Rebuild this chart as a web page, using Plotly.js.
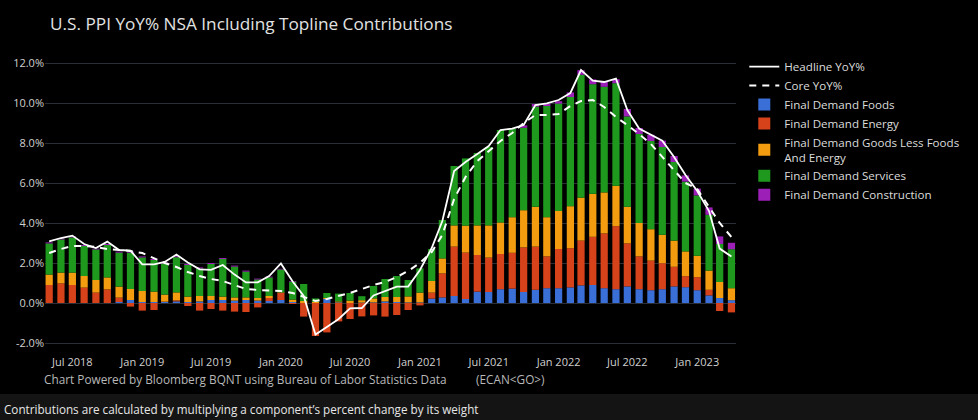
<!DOCTYPE html>
<html>
<head>
<meta charset="utf-8">
<script src="https://cdn.plot.ly/plotly-3.0.1.min.js"></script>
<style>
  html, body { margin: 0; padding: 0; background: #000; }
  #chart { width: 978px; height: 420px; }
</style>
</head>
<body>
<div id="chart"></div>
<script>
// Months (May 2018 .. Apr 2023)
const months = [
  "2018-05-01","2018-06-01","2018-07-01","2018-08-01","2018-09-01","2018-10-01","2018-11-01","2018-12-01",
  "2019-01-01","2019-02-01","2019-03-01","2019-04-01","2019-05-01","2019-06-01","2019-07-01","2019-08-01",
  "2019-09-01","2019-10-01","2019-11-01","2019-12-01","2020-01-01","2020-02-01","2020-03-01","2020-04-01",
  "2020-05-01","2020-06-01","2020-07-01","2020-08-01","2020-09-01","2020-10-01","2020-11-01","2020-12-01",
  "2021-01-01","2021-02-01","2021-03-01","2021-04-01","2021-05-01","2021-06-01","2021-07-01","2021-08-01",
  "2021-09-01","2021-10-01","2021-11-01","2021-12-01","2022-01-01","2022-02-01","2022-03-01","2022-04-01",
  "2022-05-01","2022-06-01","2022-07-01","2022-08-01","2022-09-01","2022-10-01","2022-11-01","2022-12-01",
  "2023-01-01","2023-02-01","2023-03-01","2023-04-01"
];

const headline = [3.08,3.25,3.37,2.95,2.75,3.07,2.65,2.62,1.93,1.93,2.05,2.42,2.02,1.68,1.66,1.90,
  1.42,1.03,1.03,1.35,1.98,1.07,0.35,-1.58,-1.20,-0.80,-0.27,-0.25,0.38,0.60,0.82,0.82,
  1.65,2.75,4.10,6.60,7.05,7.45,7.85,8.65,8.72,8.90,9.90,9.98,10.15,10.50,11.65,11.12,
  11.05,11.22,9.65,8.72,8.42,8.12,7.30,6.40,5.60,4.60,2.72,2.32];

const core = [2.50,2.70,2.85,2.85,2.80,2.70,2.65,2.60,2.50,2.25,2.00,1.80,1.55,1.35,1.20,1.10,
  0.90,0.70,0.65,0.63,0.60,0.50,0.30,0.10,0.20,0.35,0.50,0.70,0.90,1.05,1.30,1.60,
  2.00,2.55,3.40,5.20,6.30,7.10,7.60,8.10,8.50,9.00,9.40,9.40,9.45,9.85,10.10,10.15,
  9.80,9.30,8.90,8.45,7.95,7.30,6.60,6.00,5.70,4.80,4.00,3.30];

const foods = [0.00,0.00,0.00,0.00,0.00,0.00,0.05,0.15,0.05,0.05,0.05,0.08,0.05,0.08,0.15,0.15,
  0.12,0.15,0.12,0.10,0.15,0.05,0.00,0.00,0.20,0.03,0.00,0.02,0.03,0.08,0.05,0.03,
  0.03,0.22,0.28,0.35,0.20,0.57,0.55,0.69,0.72,0.55,0.66,0.74,0.74,0.78,0.88,0.90,
  0.74,0.69,0.83,0.69,0.64,0.69,0.83,0.79,0.64,0.38,0.25,0.14];

const energy = [0.90,0.98,0.90,0.77,0.52,0.68,0.22,-0.18,-0.38,-0.35,0.02,0.05,-0.15,-0.38,-0.30,-0.38,
  -0.43,-0.45,-0.22,0.15,0.35,-0.05,-0.68,-1.65,-1.47,-0.92,-0.80,-0.67,-0.62,-0.68,-0.60,-0.35,
  -0.12,0.30,1.20,2.47,2.32,1.83,1.72,1.76,1.79,2.23,2.16,1.59,1.96,1.96,2.24,2.41,
  2.74,3.15,2.15,1.64,1.48,1.30,0.98,0.55,0.65,0.28,-0.40,-0.47];

const goods = [0.52,0.54,0.62,0.58,0.63,0.60,0.55,0.55,0.55,0.52,0.35,0.40,0.27,0.27,0.20,0.17,
  0.16,0.13,0.13,0.10,0.03,0.12,0.10,0.05,0.05,0.05,0.12,0.12,0.20,0.22,0.25,0.30,
  0.49,0.58,0.75,1.06,1.35,1.48,1.61,1.58,1.78,1.86,1.99,1.96,1.90,2.10,2.15,2.15,
  2.05,2.02,1.83,1.67,1.57,1.42,1.31,1.24,1.07,0.96,0.80,0.60];

const services = [1.56,1.66,1.76,1.50,1.53,1.62,1.70,1.82,1.68,1.58,1.56,1.76,1.58,1.38,1.60,1.88,
  1.54,1.29,0.93,0.93,1.15,0.90,0.85,0.18,0.25,0.39,0.38,0.20,0.62,0.90,1.05,0.82,
  1.21,1.60,1.92,2.97,3.36,3.62,3.92,4.62,4.43,4.12,5.01,5.56,5.37,5.46,6.14,5.48,
  5.28,5.13,4.52,4.45,4.41,4.39,3.93,3.49,3.02,2.79,1.90,1.95];

const construction = [0.05,0.05,0.05,0.05,0.04,0.05,0.05,0.05,0.05,0.05,0.05,0.05,0.05,0.05,0.05,0.05,
  0.05,0.05,0.04,0.04,0.03,0.03,0.00,0.00,0.00,0.00,0.00,0.00,0.00,0.00,0.00,0.00,
  0.00,0.00,0.00,0.00,0.00,0.00,0.00,0.00,0.00,0.12,0.13,0.10,0.12,0.23,0.23,0.24,
  0.24,0.20,0.37,0.30,0.31,0.32,0.30,0.31,0.34,0.37,0.38,0.32];

const xTickVals = ["2018-07-01","2019-01-01","2019-07-01","2020-01-01","2020-07-01","2021-01-01",
  "2021-07-01","2022-01-01","2022-07-01","2023-01-01"];
const xTickText = ["Jul 2018","Jan 2019","Jul 2019","Jan 2020","Jul 2020","Jan 2021",
  "Jul 2021","Jan 2022","Jul 2022","Jan 2023"];

const yTickVals = [-2, 0, 2, 4, 6, 8, 10, 12];
const yTickText = ["-2.0%", "0.0%", "2.0%", "4.0%", "6.0%", "8.0%", "10.0%", "12.0%"];

const FONT = '"Open Sans", "Noto Sans", sans-serif';

function barTrace(name, y, color) {
  return { type: 'bar', name: name, x: months, y: y, marker: { color: color, line: { width: 0 } }, hoverinfo: 'skip' };
}

const data = [
  { type: 'scatter', mode: 'lines', name: 'Headline YoY%', x: months, y: headline,
    line: { color: '#ffffff', width: 1.8 }, hoverinfo: 'skip' },
  { type: 'scatter', mode: 'lines', name: 'Core YoY%', x: months, y: core,
    line: { color: '#ffffff', width: 2, dash: '7px,6px' }, hoverinfo: 'skip' },
  barTrace('Final Demand Foods', foods, '#3a6fd8'),
  barTrace('Final Demand Energy', energy, '#d6421a'),
  barTrace('Final Demand Goods Less Foods<br>And Energy', goods, '#f39c0f'),
  barTrace('Final Demand Services', services, '#1f981e'),
  barTrace('Final Demand Construction', construction, '#9c1fb8')
];

const layout = {
  width: 978, height: 420,
  paper_bgcolor: '#000000', plot_bgcolor: '#000000',
  font: { family: FONT, color: '#d8d8d8', size: 11 },
  margin: { l: 45, r: 242, t: 53, b: 71 },
  barmode: 'relative', bargap: 0.32,
  showlegend: true,
  title: { text: 'U.S. PPI YoY% NSA Including Topline Contributions',
    font: { family: FONT, size: 17.2, color: '#e2e2e2' },
    x: 50 / 978, xanchor: 'left', xref: 'container', y: 0.943, yanchor: 'middle', yref: 'container' },
  xaxis: {
    type: 'date', range: ['2018-04-20', '2023-04-13'],
    tickmode: 'array', tickvals: xTickVals, ticktext: xTickText,
    showgrid: false, zeroline: false, showline: false, ticks: '',
    ticklabelstandoff: 5,
    tickfont: { family: FONT, size: 11, color: '#d0d0d0' }
  },
  yaxis: {
    range: [-2.3, 12.5], tickmode: 'array', tickvals: yTickVals, ticktext: yTickText,
    showgrid: true, gridcolor: '#2a2e36', gridwidth: 1,
    zeroline: true, zerolinecolor: '#2a2e36', zerolinewidth: 1,
    showline: false, ticks: '',
    tickfont: { family: FONT, size: 11, color: '#d0d0d0' }
  },
  legend: {
    x: 1.012, xanchor: 'left', y: 1.003, yanchor: 'top',
    traceorder: 'normal', bgcolor: 'rgba(0,0,0,0)',
    font: { family: FONT, size: 11.6, color: '#dcdcdc' },
    tracegroupgap: 0, itemclick: false, itemdoubleclick: false
  },
  shapes: [
    { type: 'rect', xref: 'paper', yref: 'paper', x0: -0.1, x1: 1.4,
      y0: -(394 - 349) / 296, y1: -(430 - 349) / 296,
      fillcolor: '#141414', line: { width: 0 }, layer: 'below' }
  ],
  annotations: [
    { text: 'Chart Powered by Bloomberg BQNT using Bureau of Labor Statistics Data',
      xref: 'paper', yref: 'paper', x: -3 / 691, xanchor: 'left',
      y: -(379 - 349) / 296, yanchor: 'middle', showarrow: false,
      font: { family: FONT, size: 11.8, color: '#b8b8b8' } },
    { text: '(ECAN&lt;GO&gt;)',
      xref: 'paper', yref: 'paper', x: (474 - 45) / 691, xanchor: 'left',
      y: -(379 - 349) / 296, yanchor: 'middle', showarrow: false,
      font: { family: FONT, size: 11.8, color: '#b8b8b8' } },
    { text: 'Contributions are calculated by multiplying a component’s percent change by its weight',
      xref: 'paper', yref: 'paper', x: -43 / 691, xanchor: 'left',
      y: -(409 - 349) / 296, yanchor: 'middle', showarrow: false,
      font: { family: FONT, size: 11.7, color: '#e6e6e6' } }
  ]
};

Plotly.newPlot('chart', data, layout, { staticPlot: true, displayModeBar: false });
</script>
</body>
</html>
